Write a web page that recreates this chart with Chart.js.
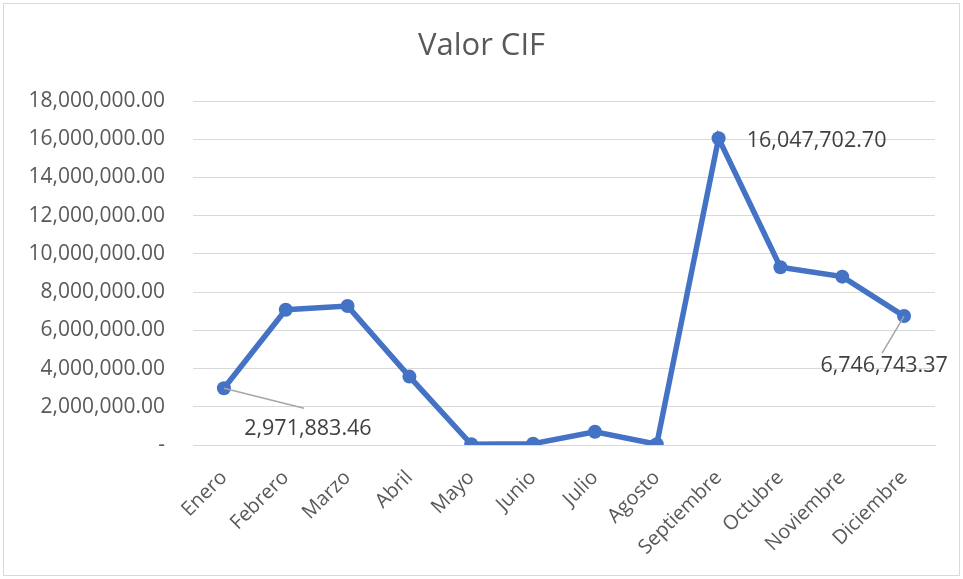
<!DOCTYPE html>
<html>
<head>
<meta charset="utf-8">
<script src="https://cdn.jsdelivr.net/npm/chart.js@4/dist/chart.umd.min.js"></script>
<style>
  html, body { margin: 0; padding: 0; background: #ffffff; }
  #wrap { width: 963px; height: 579px; position: relative; }
</style>
</head>
<body>
<div id="wrap"><canvas id="cifChart"></canvas></div>
<script>
const months = ["Enero", "Febrero", "Marzo", "Abril", "Mayo", "Junio", "Julio",
    "Agosto", "Septiembre", "Octubre", "Noviembre", "Diciembre"];
const valorCif = [2971883.46, 7080000, 7270000, 3580000, 40000, 70000, 690000,
    40000, 16047702.70, 9300000, 8810000, 6746743.37];
const yMax = 18000000;
const yStep = 2000000;

function formatMoney(value) {
    if (value === 0) return "-";
    return Number(value).toLocaleString("en-US", {
        minimumFractionDigits: 2,
        maximumFractionDigits: 2
    });
}

// where to put the few value labels (offset from point, optional leader line end)
const labelSpots = {
    0: { dx: 84, dy: 41, leader: [80, 20] },
    8: { dx: 98, dy: 3 },
    11: { dx: -20, dy: 50, leader: [-22, 37] }
};

const frame = {
    id: "frame",
    beforeDraw(chart) {
        const ctx = chart.ctx;
        ctx.save();
        ctx.fillStyle = "#ffffff";
        ctx.fillRect(0, 0, chart.width, chart.height);
        ctx.strokeStyle = "#d9d9d9";
        ctx.lineWidth = 1;
        ctx.strokeRect(3.5, 3.5, chart.width - 7, chart.height - 7);
        ctx.restore();
    }
};

const valueLabels = {
    id: "valueLabels",
    afterDatasetsDraw(chart) {
        const ctx = chart.ctx;
        const meta = chart.getDatasetMeta(0);
        ctx.save();
        ctx.font = "21.5px 'Open Sans'";
        ctx.fillStyle = "#404040";
        ctx.textAlign = "center";
        ctx.textBaseline = "middle";
        Object.keys(labelSpots).forEach(key => {
            const i = Number(key);
            const spot = labelSpots[i];
            const pt = meta.data[i];
            if (spot.leader) {
                ctx.strokeStyle = "#a6a6a6";
                ctx.lineWidth = 1.5;
                ctx.beginPath();
                ctx.moveTo(pt.x, pt.y);
                ctx.lineTo(pt.x + spot.leader[0], pt.y + spot.leader[1]);
                ctx.stroke();
            }
            ctx.fillText(formatMoney(valorCif[i]), pt.x + spot.dx, pt.y + spot.dy);
        });
        ctx.restore();
    }
};

const ctx = document.getElementById("cifChart").getContext("2d");
new Chart(ctx, {
    type: "line",
    data: {
        labels: months,
        datasets: [
            {
                label: "Valor CIF",
                data: valorCif,
                borderColor: "#4472c4",
                backgroundColor: "#4472c4",
                borderWidth: 5.5,
                pointRadius: 7,
                pointBorderWidth: 0,
                pointBackgroundColor: "#4472c4",
                tension: 0
            }
        ]
    },
    options: {
        responsive: true,
        maintainAspectRatio: false,
        animation: false,
        layout: {
            padding: { top: 4, right: 28, bottom: 0, left: 28 }
        },
        plugins: {
            legend: { display: false },
            tooltip: { enabled: false },
            title: {
                display: true,
                text: "Valor CIF",
                color: "#595959",
                font: { family: "'Open Sans'", size: 31, weight: "normal" },
                padding: { top: 24, bottom: 35.8 }
            }
        },
        scales: {
            x: {
                offset: true,
                grid: { display: false, drawTicks: false },
                border: { display: true, color: "#d9d9d9", width: 1 },
                ticks: {
                    color: "#595959",
                    font: { family: "'Open Sans'", size: 20 },
                    maxRotation: 45,
                    minRotation: 45,
                    padding: 21,
                    autoSkip: false
                },
                afterFit(scale) {
                    scale.height = 134;
                }
            },
            y: {
                min: 0,
                max: yMax,
                grid: { color: "#d9d9d9", lineWidth: 1, drawTicks: false },
                border: { display: false },
                ticks: {
                    stepSize: yStep,
                    color: "#595959",
                    font: { family: "'Open Sans'", size: 21 },
                    padding: 28,
                    callback: value => formatMoney(value)
                },
                afterFit(scale) {
                    scale.width = 165;
                }
            }
        }
    },
    plugins: [frame, valueLabels]
});
</script>
</body>
</html>
